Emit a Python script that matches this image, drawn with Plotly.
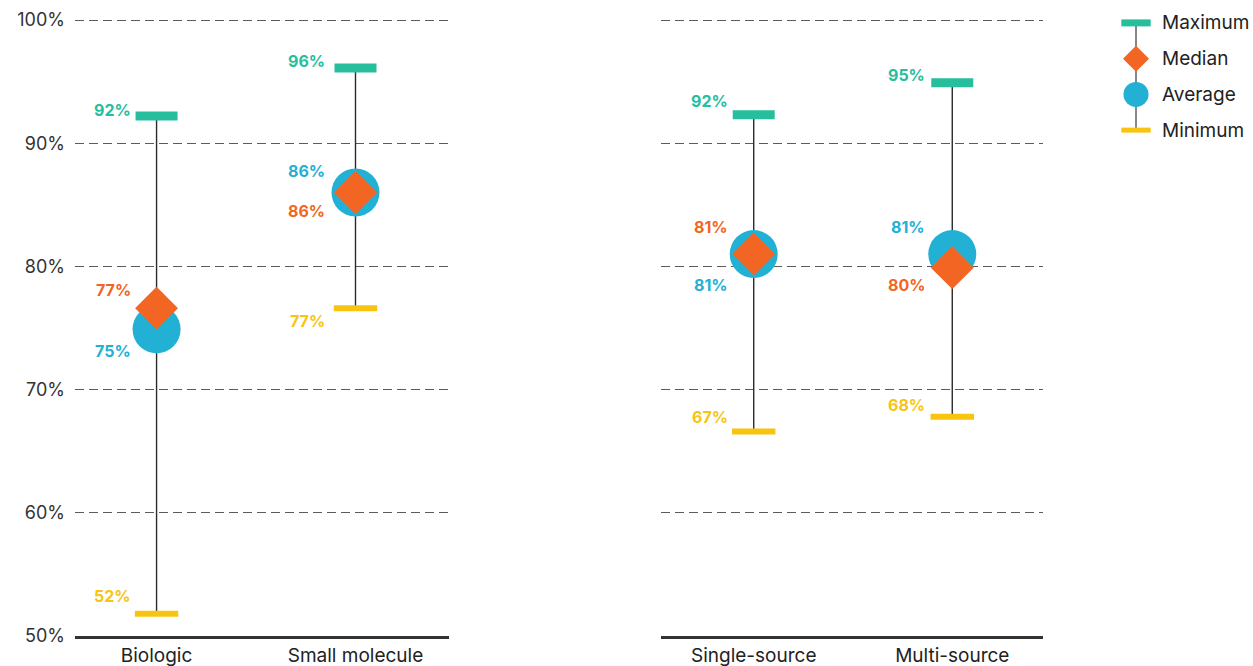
import plotly.graph_objects as go

# ---------------- data ----------------
categories_left = ["Biologic", "Small molecule"]
categories_right = ["Single-source", "Multi-source"]

maximum_left = [92.2, 96.1]
median_left = [76.6, 86.0]
average_left = [74.9, 86.0]
minimum_left = [51.8, 76.6]

maximum_right = [92.3, 94.9]
median_right = [81.0, 79.9]
average_right = [81.0, 81.0]
minimum_right = [66.6, 67.8]

y_ticks = [50, 60, 70, 80, 90, 100]
y_tick_labels = ["50%", "60%", "70%", "80%", "90%", "100%"]
legend_items = ["Maximum", "Median", "Average", "Minimum"]

# ---------------- style ----------------
GREEN = "#27BE9E"
ORANGE = "#F26522"
BLUE = "#22B1D5"
YELLOW = "#F8C40F"
DARK = "#2b2b2b"
FONT = "Inter"

# label offsets (pixels) per panel: yshift per stat per category, xshift per category
label_yshift = [
    {"max": [6, 7], "median": [18, -19], "avg": [-22, 21], "min": [18, -13]},
    {"max": [14, 8], "median": [27, -17], "avg": [-31, 27], "min": [14, 12]},
]
label_xshift = [[-24, -29], [-24, -25]]

fig = go.Figure()
annotations = []

panels = [
    ("x", "y", categories_left, maximum_left, median_left, average_left, minimum_left),
    ("x2", "y2", categories_right, maximum_right, median_right, average_right, minimum_right),
]

for pi, (xa, ya, cats, mx, md, av, mn) in enumerate(panels):
    xs, ys = [], []
    for c, lo, hi in zip(cats, mn, mx):
        xs += [c, c, None]
        ys += [lo, hi, None]
    fig.add_trace(go.Scatter(x=xs, y=ys, mode="lines", line=dict(color=DARK, width=1.4),
                             xaxis=xa, yaxis=ya, hoverinfo="skip", showlegend=False))
    fig.add_trace(go.Scatter(x=cats, y=mx, mode="markers", xaxis=xa, yaxis=ya, showlegend=False,
                             marker=dict(symbol="line-ew", size=30, color=GREEN, opacity=1,
                                         line=dict(color=GREEN, width=9))))
    fig.add_trace(go.Scatter(x=cats, y=mn, mode="markers", xaxis=xa, yaxis=ya, showlegend=False,
                             marker=dict(symbol="line-ew", size=31, color=YELLOW, opacity=1,
                                         line=dict(color=YELLOW, width=6))))
    fig.add_trace(go.Scatter(x=cats, y=av, mode="markers", xaxis=xa, yaxis=ya, showlegend=False,
                             marker=dict(symbol="circle", size=48, color=BLUE, opacity=1,
                                         line=dict(width=0))))
    fig.add_trace(go.Scatter(x=cats, y=md, mode="markers", xaxis=xa, yaxis=ya, showlegend=False,
                             marker=dict(symbol="diamond", size=33, color=ORANGE, opacity=1,
                                         line=dict(width=0))))

    for key, vals, col in [("max", mx, GREEN), ("median", md, ORANGE),
                           ("avg", av, BLUE), ("min", mn, YELLOW)]:
        for ci, (c, v) in enumerate(zip(cats, vals)):
            annotations.append(dict(
                x=c, y=v, xref=xa, yref=ya, text=f"{round(v)}%", showarrow=False,
                xanchor="right", yanchor="middle",
                xshift=label_xshift[pi][ci], yshift=label_yshift[pi][key][ci],
                font=dict(family=FONT, size=16, color=col, weight="bold")))

# ---------------- custom legend ----------------
fig.add_trace(go.Scatter(x=[0, 0], y=[legend_items[0], legend_items[-1]], mode="lines",
                         line=dict(color="#555", width=1.4), xaxis="x3", yaxis="y3",
                         hoverinfo="skip", showlegend=False))
legend_colors = [GREEN, ORANGE, BLUE, YELLOW]
legend_symbols = ["line-ew", "diamond", "circle", "line-ew"]
legend_sizes = [21, 20, 25, 21]
legend_lw = [7, 0, 0, 5]
for item, col, sym, sz, lw in zip(legend_items, legend_colors, legend_symbols, legend_sizes, legend_lw):
    fig.add_trace(go.Scatter(
        x=[0], y=[item], mode="markers", xaxis="x3", yaxis="y3", showlegend=False,
        hoverinfo="skip",
        marker=dict(symbol=sym, size=sz, color=col, opacity=1, line=dict(color=col, width=lw))))
for item in legend_items:
    annotations.append(dict(x=0, y=item, xref="x3", yref="y3", text=item, showarrow=False,
                            xanchor="left", yanchor="middle", xshift=24,
                            font=dict(family=FONT, size=19, color="#222")))

# y range a touch above 100 so the 100% gridline is drawn; domain extended to keep scale
PX_PER_UNIT = 616 / 50.0
Y_TOP = 100.4
dom_top_px = 20 - (Y_TOP - 100) * PX_PER_UNIT
grid = dict(showgrid=True, gridcolor="#5a5a5a", gridwidth=1.4, griddash="9px,5px",
            zeroline=False, range=[49.98, Y_TOP], tickvals=y_ticks, ticktext=y_tick_labels,
            tickmode="array", automargin=False,
            domain=[(666 - 636 - 0.02 * PX_PER_UNIT) / 666, (666 - dom_top_px) / 666])

fig.update_layout(
    width=1253, height=666, autosize=False,
    margin=dict(l=0, r=0, t=0, b=0),
    paper_bgcolor="white", plot_bgcolor="white",
    font=dict(family=FONT, color="#222"),
    showlegend=False,
    annotations=annotations,
    xaxis=dict(domain=[75 / 1253, 449 / 1253], type="category", categoryarray=categories_left,
               range=[-0.41, 1.47], showgrid=False, showline=True, linecolor="#333", linewidth=3,
               ticks="", tickfont=dict(size=19, color="#222"), anchor="y", automargin=False,
               ticklabelstandoff=0),
    yaxis=dict(**grid, anchor="x", tickfont=dict(size=18, color="#333"),
               ticks="", ticklabelstandoff=9),
    xaxis2=dict(domain=[661 / 1253, 1043 / 1253], type="category", categoryarray=categories_right,
                range=[-0.467, 1.457], showgrid=False, showline=True, linecolor="#333", linewidth=3,
                ticks="", tickfont=dict(size=19, color="#222"), anchor="y2", automargin=False,
                ticklabelstandoff=0),
    yaxis2=dict(**grid, anchor="x2", showticklabels=False, ticks=""),
    xaxis3=dict(domain=[1100 / 1253, 1.0], range=[-36, 117], visible=False, anchor="y3",
                fixedrange=True),
    yaxis3=dict(domain=[(666 - 148) / 666, (666 - 5) / 666], type="category",
                categoryarray=legend_items, range=[3.5, -0.5], visible=False, anchor="x3",
                fixedrange=True),
)

fig.write_html("out.html")
